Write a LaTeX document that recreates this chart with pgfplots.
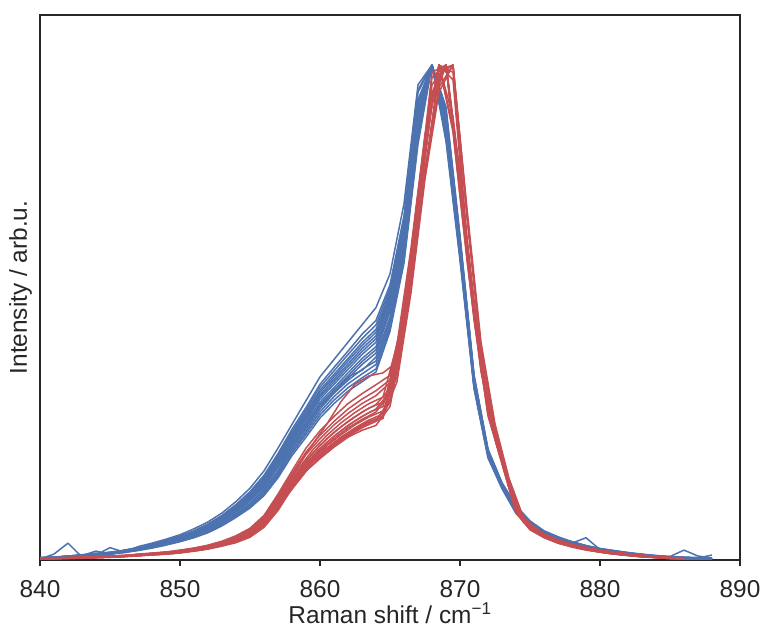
\documentclass[border=0pt]{standalone}
\usepackage{pgfplots}
\usepackage{pgfplotstable}
\pgfplotsset{compat=1.18}
\usepackage{fontspec}
\setmainfont{Liberation Sans}
\definecolor{sbblue}{HTML}{4C72B0}
\definecolor{sbred}{HTML}{C44E52}
\definecolor{axgray}{HTML}{262626}

\pgfplotstableread{
x b1 b2 b3 b4 b5 b6 b7 b8 b9 b10 b11 b12 b13 b14 b15 b16
840 0.003 0.004 0.004 0.005 0.003 0.004 0.004 0.005 0.004 0.002 0.003 0.004 0.004 0.004 0.005 0.004
841 0.004 0.005 0.006 0.004 0.005 0.006 0.005 0.004 0.006 0.012 0.004 0.005 0.005 0.005 0.006 0.005
842 0.006 0.006 0.007 0.008 0.006 0.007 0.008 0.007 0.008 0.034 0.006 0.006 0.007 0.007 0.007 0.008
843 0.007 0.008 0.009 0.010 0.008 0.009 0.010 0.011 0.009 0.006 0.008 0.008 0.009 0.009 0.010 0.010
844 0.009 0.010 0.018 0.011 0.010 0.011 0.012 0.012 0.014 0.010 0.009 0.010 0.011 0.011 0.012 0.012
845 0.012 0.013 0.011 0.013 0.014 0.015 0.014 0.016 0.015 0.025 0.012 0.013 0.014 0.014 0.015 0.015
846 0.015 0.016 0.017 0.017 0.018 0.018 0.019 0.019 0.020 0.016 0.015 0.016 0.017 0.018 0.019 0.019
847 0.019 0.020 0.021 0.022 0.023 0.023 0.024 0.024 0.025 0.027 0.020 0.021 0.022 0.023 0.024 0.025
848 0.024 0.026 0.027 0.028 0.028 0.029 0.030 0.031 0.032 0.034 0.025 0.026 0.028 0.029 0.030 0.031
849 0.030 0.032 0.033 0.034 0.035 0.036 0.037 0.038 0.040 0.042 0.031 0.032 0.035 0.037 0.038 0.039
850 0.037 0.039 0.040 0.042 0.043 0.044 0.045 0.047 0.048 0.051 0.038 0.040 0.042 0.045 0.046 0.048
851 0.045 0.048 0.050 0.051 0.053 0.054 0.056 0.057 0.059 0.063 0.046 0.049 0.052 0.055 0.056 0.058
852 0.055 0.058 0.061 0.063 0.065 0.066 0.068 0.070 0.073 0.077 0.057 0.059 0.064 0.067 0.069 0.071
853 0.069 0.072 0.075 0.078 0.080 0.082 0.084 0.087 0.090 0.095 0.071 0.074 0.079 0.083 0.086 0.089
854 0.086 0.090 0.094 0.097 0.100 0.102 0.105 0.108 0.112 0.118 0.088 0.092 0.098 0.104 0.107 0.110
855 0.105 0.110 0.115 0.119 0.123 0.125 0.129 0.133 0.138 0.145 0.108 0.113 0.121 0.127 0.131 0.135
856 0.130 0.136 0.143 0.147 0.152 0.155 0.160 0.164 0.171 0.180 0.133 0.140 0.150 0.157 0.162 0.167
857 0.166 0.173 0.181 0.187 0.192 0.196 0.202 0.207 0.215 0.226 0.169 0.177 0.189 0.199 0.205 0.211
858 0.211 0.220 0.229 0.230 0.237 0.241 0.248 0.255 0.264 0.274 0.216 0.225 0.233 0.244 0.251 0.259
859 0.248 0.259 0.269 0.269 0.277 0.282 0.290 0.298 0.308 0.322 0.254 0.264 0.273 0.286 0.294 0.303
860 0.287 0.299 0.311 0.310 0.319 0.325 0.334 0.343 0.355 0.370 0.293 0.305 0.315 0.330 0.339 0.349
861 0.316 0.330 0.343 0.338 0.348 0.355 0.365 0.375 0.389 0.405 0.323 0.337 0.343 0.360 0.370 0.382
862 0.341 0.356 0.370 0.367 0.378 0.385 0.396 0.407 0.422 0.440 0.348 0.363 0.372 0.391 0.402 0.415
863 0.360 0.376 0.383 0.395 0.407 0.415 0.427 0.439 0.456 0.475 0.368 0.385 0.401 0.421 0.433 0.447
864 0.380 0.395 0.410 0.418 0.431 0.440 0.453 0.466 0.484 0.510 0.386 0.402 0.425 0.447 0.460 0.475
865 0.462 0.476 0.491 0.502 0.513 0.520 0.531 0.542 0.556 0.578 0.469 0.484 0.507 0.525 0.536 0.549
866 0.600 0.615 0.630 0.640 0.650 0.660 0.670 0.680 0.695 0.720 0.605 0.620 0.646 0.666 0.678 0.692
867 0.840 0.860 0.880 0.890 0.900 0.910 0.920 0.930 0.945 0.960 0.850 0.870 0.895 0.910 0.925 0.950
868 1.000 1.000 1.000 1.000 1.000 1.000 1.000 1.000 1.000 1.000 1.000 1.000 1.000 1.000 1.000 1.000
869 0.854 0.898 0.871 0.906 0.862 0.880 0.889 0.845 0.915 0.880 0.867 0.893 0.858 0.902 0.876 0.911
870 0.611 0.643 0.624 0.649 0.617 0.630 0.636 0.605 0.655 0.630 0.621 0.639 0.614 0.646 0.627 0.652
871 0.349 0.367 0.356 0.371 0.353 0.360 0.364 0.346 0.374 0.360 0.355 0.365 0.351 0.369 0.358 0.373
872 0.209 0.219 0.213 0.221 0.211 0.215 0.217 0.206 0.224 0.215 0.212 0.218 0.210 0.220 0.214 0.223
873 0.146 0.153 0.149 0.155 0.147 0.150 0.152 0.144 0.156 0.150 0.148 0.152 0.146 0.154 0.149 0.155
874 0.095 0.106 0.100 0.108 0.098 0.102 0.104 0.094 0.110 0.101 0.099 0.105 0.097 0.107 0.101 0.109
875 0.067 0.076 0.070 0.077 0.069 0.072 0.074 0.066 0.079 0.071 0.070 0.074 0.068 0.076 0.071 0.078
876 0.049 0.056 0.052 0.058 0.050 0.053 0.055 0.048 0.059 0.052 0.051 0.055 0.050 0.057 0.052 0.058
877 0.038 0.045 0.041 0.046 0.039 0.042 0.043 0.037 0.047 0.041 0.040 0.044 0.039 0.045 0.041 0.046
878 0.029 0.035 0.032 0.037 0.030 0.033 0.034 0.028 0.036 0.032 0.031 0.035 0.030 0.036 0.033 0.037
879 0.023 0.028 0.025 0.029 0.024 0.026 0.045 0.022 0.029 0.025 0.024 0.028 0.023 0.028 0.026 0.029
880 0.017 0.022 0.019 0.023 0.018 0.020 0.021 0.016 0.023 0.020 0.019 0.021 0.018 0.022 0.020 0.023
881 0.013 0.018 0.015 0.019 0.014 0.016 0.017 0.012 0.019 0.016 0.015 0.017 0.014 0.018 0.016 0.018
882 0.010 0.014 0.011 0.015 0.010 0.012 0.013 0.009 0.015 0.012 0.011 0.013 0.010 0.014 0.012 0.014
883 0.007 0.011 0.008 0.011 0.008 0.009 0.010 0.006 0.012 0.009 0.008 0.010 0.008 0.011 0.009 0.011
884 0.005 0.008 0.006 0.009 0.006 0.007 0.008 0.005 0.009 0.007 0.006 0.008 0.006 0.008 0.007 0.008
885 0.004 0.006 0.005 0.007 0.004 0.005 0.006 0.003 0.007 0.005 0.005 0.006 0.004 0.006 0.005 0.006
886 0.003 0.005 0.004 0.020 0.003 0.004 0.005 0.002 0.006 0.004 0.004 0.004 0.003 0.005 0.004 0.005
887 0.002 0.004 0.003 0.008 0.002 0.003 0.004 0.001 0.005 0.003 0.003 0.003 0.002 0.004 0.003 0.004
888 0.001 0.003 0.002 0.004 0.002 0.002 0.010 0.001 0.003 0.002 0.002 0.002 0.001 0.003 0.002 0.003
}\bluetab

\pgfplotstableread{
x r1 r2 r3 r4 r5 r6 r7 r8 r9
840 0.002 0.003 0.003 0.003 0.004 0.003 0.003 0.003 0.003
841 0.003 0.003 0.002 0.004 0.003 0.004 0.003 0.003 0.004
842 0.003 0.004 0.004 0.004 0.005 0.005 0.004 0.004 0.004
843 0.004 0.005 0.005 0.005 0.006 0.006 0.004 0.005 0.006
844 0.005 0.005 0.006 0.006 0.007 0.007 0.005 0.006 0.007
845 0.006 0.006 0.007 0.007 0.008 0.008 0.006 0.007 0.008
846 0.007 0.007 0.008 0.008 0.009 0.009 0.007 0.008 0.009
847 0.008 0.009 0.010 0.010 0.011 0.012 0.009 0.010 0.011
848 0.010 0.011 0.012 0.012 0.013 0.014 0.011 0.012 0.013
849 0.012 0.013 0.014 0.014 0.015 0.016 0.012 0.014 0.016
850 0.014 0.016 0.017 0.018 0.019 0.020 0.015 0.017 0.019
851 0.018 0.019 0.021 0.022 0.023 0.024 0.018 0.021 0.024
852 0.022 0.024 0.025 0.027 0.028 0.030 0.023 0.026 0.029
853 0.028 0.030 0.032 0.034 0.036 0.038 0.029 0.033 0.037
854 0.035 0.039 0.041 0.043 0.046 0.049 0.037 0.042 0.047
855 0.046 0.051 0.054 0.057 0.060 0.064 0.048 0.055 0.062
856 0.066 0.072 0.076 0.080 0.085 0.090 0.069 0.078 0.087
857 0.100 0.106 0.113 0.118 0.125 0.133 0.104 0.115 0.129
858 0.145 0.143 0.152 0.160 0.169 0.180 0.148 0.155 0.174
859 0.180 0.179 0.191 0.201 0.213 0.226 0.185 0.195 0.218
860 0.205 0.207 0.221 0.232 0.245 0.261 0.212 0.225 0.252
861 0.228 0.230 0.245 0.258 0.273 0.290 0.234 0.250 0.280
862 0.248 0.250 0.267 0.280 0.296 0.316 0.252 0.272 0.305
863 0.262 0.267 0.284 0.299 0.316 0.336 0.268 0.290 0.325
864 0.272 0.281 0.299 0.314 0.332 0.354 0.280 0.305 0.342
865 0.310 0.324 0.336 0.346 0.358 0.373 0.318 0.340 0.364
866 0.457 0.468 0.477 0.484 0.493 0.503 0.463 0.480 0.497
867 0.700 0.710 0.725 0.725 0.740 0.740 0.705 0.730 0.735
868 0.920 0.925 0.975 0.935 0.960 0.945 0.925 0.985 0.940
869 1.000 1.000 1.000 1.000 1.000 1.000 1.000 1.000 1.000
870 0.745 0.775 0.760 0.737 0.783 0.760 0.768 0.752 0.775
871 0.490 0.510 0.500 0.485 0.515 0.500 0.505 0.495 0.510
872 0.294 0.306 0.300 0.291 0.309 0.300 0.303 0.297 0.306
873 0.196 0.204 0.200 0.194 0.206 0.200 0.202 0.198 0.204
874 0.096 0.104 0.100 0.095 0.106 0.101 0.101 0.099 0.102
875 0.062 0.070 0.066 0.061 0.071 0.065 0.067 0.065 0.068
876 0.046 0.052 0.049 0.045 0.053 0.048 0.050 0.048 0.050
877 0.034 0.040 0.037 0.034 0.040 0.036 0.037 0.036 0.038
878 0.027 0.031 0.029 0.026 0.032 0.028 0.029 0.028 0.030
879 0.021 0.025 0.023 0.020 0.025 0.022 0.023 0.022 0.024
880 0.016 0.020 0.018 0.016 0.020 0.017 0.018 0.017 0.019
881 0.012 0.016 0.014 0.012 0.016 0.013 0.014 0.013 0.015
882 0.010 0.012 0.011 0.009 0.013 0.010 0.011 0.010 0.011
883 0.007 0.009 0.008 0.007 0.010 0.008 0.008 0.008 0.009
884 0.005 0.007 0.006 0.005 0.007 0.006 0.006 0.006 0.006
885 0.003 0.005 0.004 0.003 0.005 0.004 0.004 0.004 0.005
886 0.002 0.003 0.003 0.002 0.004 0.003 0.003 0.003 0.003
}\redtabA

\pgfplotstableread{
x s1 s2 s3 s4 s5 s6 s7 s8 s9
840.5 0.003 0.003 0.003 0.003 0.004 0.002 0.003 0.003 0.003
841.5 0.003 0.004 0.004 0.004 0.005 0.004 0.004 0.004 0.004
842.5 0.004 0.004 0.004 0.005 0.005 0.003 0.004 0.004 0.004
843.5 0.004 0.005 0.005 0.005 0.006 0.004 0.005 0.005 0.005
844.5 0.005 0.006 0.006 0.006 0.007 0.005 0.006 0.006 0.006
845.5 0.006 0.007 0.007 0.008 0.008 0.006 0.006 0.007 0.007
846.5 0.008 0.008 0.009 0.010 0.010 0.008 0.008 0.009 0.009
847.5 0.010 0.010 0.011 0.012 0.012 0.010 0.010 0.011 0.011
848.5 0.011 0.012 0.013 0.014 0.015 0.012 0.012 0.013 0.013
849.5 0.013 0.014 0.015 0.016 0.017 0.014 0.014 0.015 0.015
850.5 0.017 0.018 0.019 0.020 0.021 0.017 0.017 0.020 0.018
851.5 0.020 0.022 0.023 0.024 0.026 0.021 0.021 0.024 0.022
852.5 0.026 0.028 0.029 0.031 0.032 0.026 0.027 0.030 0.028
853.5 0.033 0.035 0.037 0.039 0.041 0.033 0.034 0.038 0.036
854.5 0.042 0.046 0.048 0.051 0.054 0.043 0.044 0.049 0.047
855.5 0.057 0.062 0.065 0.069 0.073 0.059 0.060 0.067 0.063
856.5 0.086 0.090 0.095 0.101 0.106 0.088 0.089 0.098 0.092
857.5 0.125 0.128 0.135 0.143 0.151 0.127 0.128 0.139 0.131
858.5 0.165 0.166 0.175 0.186 0.196 0.166 0.168 0.180 0.170
859.5 0.198 0.200 0.210 0.223 0.235 0.200 0.201 0.216 0.204
860.5 0.222 0.226 0.238 0.252 0.275 0.226 0.226 0.245 0.231
861.5 0.244 0.248 0.261 0.277 0.320 0.248 0.247 0.269 0.253
862.5 0.262 0.267 0.281 0.298 0.355 0.265 0.265 0.289 0.273
863.5 0.276 0.283 0.298 0.316 0.372 0.279 0.280 0.307 0.289
864.5 0.286 0.295 0.310 0.329 0.378 0.290 0.290 0.319 0.301
865.5 0.390 0.407 0.420 0.435 0.400 0.360 0.400 0.390 0.370
866.5 0.600 0.612 0.620 0.630 0.570 0.540 0.605 0.560 0.550
867.5 0.835 0.845 0.850 0.860 0.790 0.770 0.840 0.785 0.775
868.5 1.000 1.000 1.000 1.000 0.955 0.945 1.000 0.990 0.980
869.5 0.865 0.895 0.985 0.970 1.000 1.000 0.875 1.000 1.000
870.5 0.605 0.635 0.650 0.640 0.710 0.690 0.615 0.700 0.700
871.5 0.380 0.400 0.400 0.395 0.440 0.420 0.385 0.430 0.425
872.5 0.244 0.256 0.255 0.250 0.275 0.265 0.248 0.270 0.268
873.5 0.146 0.154 0.152 0.149 0.165 0.158 0.149 0.162 0.160
874.5 0.077 0.083 0.080 0.078 0.088 0.084 0.079 0.086 0.085
875.5 0.054 0.060 0.057 0.055 0.061 0.058 0.056 0.060 0.059
876.5 0.041 0.045 0.043 0.041 0.046 0.044 0.042 0.045 0.044
877.5 0.031 0.035 0.033 0.032 0.035 0.034 0.032 0.035 0.034
878.5 0.024 0.028 0.026 0.025 0.028 0.027 0.025 0.027 0.027
879.5 0.018 0.022 0.020 0.019 0.022 0.021 0.019 0.021 0.021
880.5 0.014 0.018 0.016 0.015 0.017 0.016 0.015 0.017 0.016
881.5 0.011 0.013 0.012 0.011 0.013 0.012 0.011 0.013 0.012
882.5 0.008 0.010 0.009 0.008 0.010 0.009 0.008 0.010 0.009
883.5 0.006 0.008 0.007 0.006 0.008 0.007 0.006 0.008 0.007
884.5 0.004 0.006 0.005 0.004 0.005 0.005 0.004 0.005 0.005
885.5 0.003 0.004 0.003 0.003 0.004 0.003 0.003 0.004 0.003
}\redtabB

\begin{document}
\begin{tikzpicture}
\begin{axis}[
  width=700bp, height=545bp, scale only axis,
  xmin=840, xmax=890, ymin=0, ymax=1.101,
  xtick={840,850,860,870,880,890},
  ytick=\empty,
  xtick pos=bottom,
  tick align=outside,
  major tick length=6.5bp,
  axis line style={axgray, line width=1.25bp},
  every tick/.style={axgray, line width=1.25bp},
  /pgf/number format/assume math mode=true,
  xticklabel style={font=\fontsize{24.5}{29}\selectfont, text=axgray, anchor=base, yshift=-31bp},
  xlabel={Raman shift / cm\textsuperscript{−1}},
  ylabel={Intensity / arb.u.},
  x label style={font=\fontsize{24.5}{29}\selectfont, text=axgray, at={(axis description cs:0.5,-0.1156)}, anchor=base, inner sep=0pt},
  y label style={font=\fontsize{24.5}{29}\selectfont, text=axgray, at={(axis description cs:-0.0114,0.5)}, anchor=south, inner sep=0pt, rotate=0},
  every axis plot/.append style={no markers, line width=1.5bp, line join=round},
]
\pgfplotsinvokeforeach{1,...,16}{\addplot[sbblue] table[x=x, y=b#1]{\bluetab};}
\pgfplotsinvokeforeach{1,...,9}{\addplot[sbred] table[x=x, y=r#1]{\redtabA};}
\pgfplotsinvokeforeach{1,...,9}{\addplot[sbred] table[x=x, y=s#1]{\redtabB};}
\end{axis}
\path (current axis.south west) ++(-40bp,-71bp) (current axis.north east) ++(24bp,15bp);
\end{tikzpicture}
\end{document}
